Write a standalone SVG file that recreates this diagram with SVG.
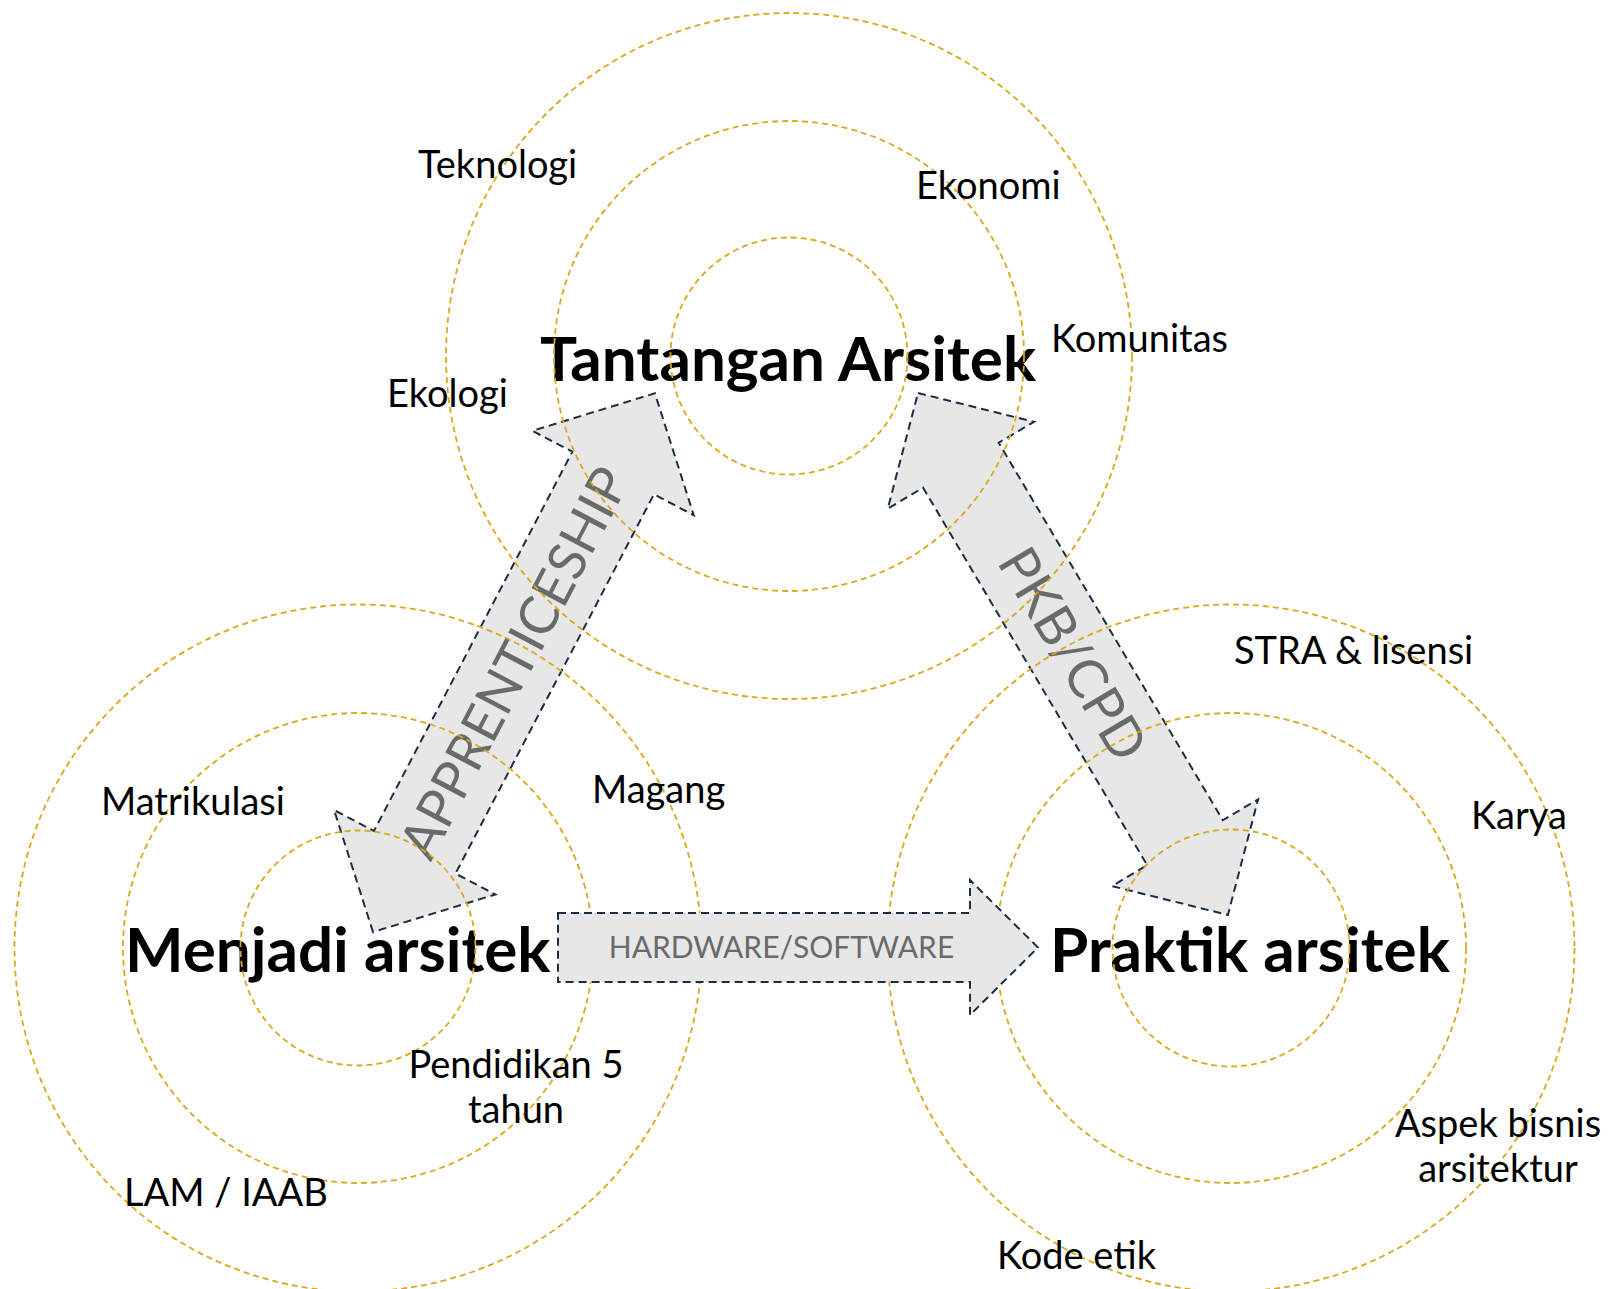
<svg xmlns="http://www.w3.org/2000/svg" width="1619" height="1289" viewBox="0 0 1619 1289">
<style>
.ring{fill:none;stroke:#d9a81c;stroke-width:1.8;stroke-dasharray:6 4}
.arrow{fill:#e7e7e7;stroke:#1b2d45;stroke-width:2;stroke-dasharray:8 5;stroke-linejoin:miter}
.alab{font-family:Lato,"Noto Sans",sans-serif;fill:#6a6a6a;text-anchor:middle}
.title{font-family:Lato,"Noto Sans",sans-serif;font-weight:bold;font-size:62px;fill:#000}
.lab{font-family:Lato,"Noto Sans",sans-serif;font-size:38px;fill:#000}
</style>
<rect width="1619" height="1289" fill="#fff"/>
<g id="connectors">
  <g id="apprenticeship" transform="translate(373,932) rotate(-62.38)">
    <polygon class="arrow" points="0,0 90,-91 90,-46 518,-46 518,-91 608,0 518,91 518,46 90,46 90,91"/>
    <text class="alab" x="304" y="19" font-size="53">APPRENTICESHIP</text>
  </g>
  <g id="pkb-cpd" transform="translate(918,393) rotate(59.3)">
    <polygon class="arrow" points="0,0 84,-85 84,-44 523,-44 523,-85 607,0 523,85 523,44 84,44 84,85"/>
    <text class="alab" x="303.5" y="19" font-size="54">PKB/CPD</text>
  </g>
</g>
<g id="node-tantangan">
  <text class="title" x="540" y="381">Tantangan Arsitek</text>
  <circle class="ring" cx="789" cy="356" r="118.5"/>
  <circle class="ring" cx="789" cy="356" r="235"/>
  <circle class="ring" cx="789" cy="356" r="343"/>
</g>
<g id="node-menjadi">
  <text class="title" x="125" y="972" font-size="61">Menjadi arsitek</text>
  <circle class="ring" cx="358" cy="948" r="117.5"/>
  <circle class="ring" cx="358" cy="948" r="235"/>
  <circle class="ring" cx="358" cy="948" r="343.5"/>
</g>
<g id="node-praktik">
  <text class="title" x="1050" y="972" font-size="61">Praktik arsitek</text>
  <circle class="ring" cx="1231" cy="948" r="118.5"/>
  <circle class="ring" cx="1231" cy="948" r="235"/>
  <circle class="ring" cx="1231" cy="948" r="343.5"/>
</g>
<g id="labels">
  <text id="lab-teknologi" class="lab" x="418" y="178">Teknologi</text>
  <text id="lab-ekonomi" class="lab" x="916" y="199">Ekonomi</text>
  <text id="lab-komunitas" class="lab" x="1051" y="352">Komunitas</text>
  <text id="lab-ekologi" class="lab" x="387" y="407">Ekologi</text>
  <text id="lab-matrikulasi" class="lab" x="101" y="815">Matrikulasi</text>
  <text id="lab-magang" class="lab" x="592" y="803">Magang</text>
  <text id="lab-pendidikan" class="lab" text-anchor="middle"><tspan x="516" y="1078">Pendidikan 5</tspan><tspan x="516" y="1123">tahun</tspan></text>
  <text id="lab-lam" class="lab" x="124" y="1206">LAM / IAAB</text>
  <text id="lab-stra" class="lab" x="1234" y="664">STRA &amp; lisensi</text>
  <text id="lab-karya" class="lab" x="1471" y="829">Karya</text>
  <text id="lab-aspek" class="lab" text-anchor="middle"><tspan x="1498" y="1137">Aspek bisnis</tspan><tspan x="1498" y="1182">arsitektur</tspan></text>
  <text id="lab-kode" class="lab" x="997" y="1269">Kode etik</text>
</g>
<g id="connectors-2">
  <g id="hardware-software">
    <polygon class="arrow" points="558,913 970,913 970,880 1038,947.5 970,1015 970,982 558,982"/>
    <text class="alab" x="781.5" y="958" font-size="30">HARDWARE/SOFTWARE</text>
  </g>
</g>
</svg>
